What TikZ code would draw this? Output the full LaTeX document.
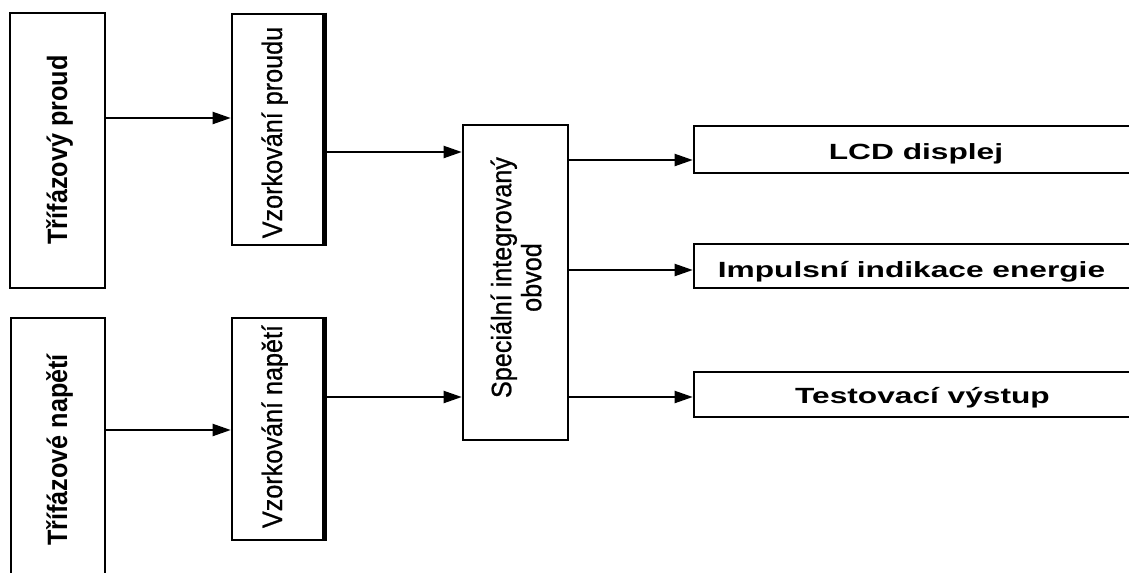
\documentclass[tikz,border=0pt]{standalone}
\usepackage{fontspec}
\setmainfont{Liberation Sans}
\newfontfamily\rotfont[FakeStretch=0.9]{Liberation Sans}
\newfontfamily\rotregfont[FakeStretch=0.9,FakeBold=0.7]{Liberation Sans}
\newfontfamily\horfont[FakeStretch=1.44]{Liberation Sans}
\usetikzlibrary{arrows.meta,fit}
\begin{document}
\begin{tikzpicture}[x=0.75pt,y=-0.75pt,
  box/.style={draw=black, line width=1.9pt, inner sep=0pt},
  rbold/.style={rotate=90, inner sep=0pt, anchor=base, font=\rotfont\bfseries\fontsize{21pt}{22.5pt}\selectfont},
  rreg/.style={rotate=90, inner sep=0pt, anchor=base, font=\rotregfont\fontsize{21pt}{22.5pt}\selectfont},
  hbold/.style={inner sep=0pt, anchor=base, font=\horfont\bfseries\fontsize{16.5pt}{18pt}\selectfont},
  arr/.style={line width=1.5pt, -{Triangle[length=13.5pt,width=9pt]}},
  thickedge/.style={line width=3.4pt}
]
\useasboundingbox (0,0) rectangle (1129,572);
\clip (0,0) rectangle (1129,572);

% boxes
\node[box, fit={(10,13) (105,288)}] (b1) {};
\node[box, fit={(232,14) (323,245)}] (b2) {};
\node[box, fit={(11,318) (105,582)}] (b3) {};
\node[box, fit={(232,318) (323,540)}] (b4) {};
\node[box, fit={(463,125) (568,440)}] (b5) {};
\node[box, fit={(694,126) (1138,173)}] (b6) {};
\node[box, fit={(694,244) (1138,288)}] (b7) {};
\node[box, fit={(694,372) (1138,417)}] (b8) {};
\draw[thickedge] (b2.north east) -- (b2.south east);
\draw[thickedge] (b4.north east) -- (b4.south east);

% texts
\node[rbold] (t1) at (67,150) {Třífázový proud};
\node[rreg] (t2) at (282,132.5) {Vzorkování proudu};
\node[rbold] (t3) at (67,450) {Třífázové napětí};
\node[rreg] (t4) at (282,426.5) {Vzorkování napětí};
\node[rreg, anchor=center, align=center] (t5) at (516,277.5) {Speciální integrovaný\\obvod};
\node[hbold] (t6) at (916,159.3) {LCD displej};
\node[hbold] (t7) at (911.5,277.3) {Impulsní indikace energie};
\node[hbold] (t8) at (922.5,403) {Testovací výstup};

% arrow levels
\coordinate (y1) at (0,118);
\coordinate (y2) at (0,430);
\coordinate (y3) at (0,152);
\coordinate (y4) at (0,397);
\coordinate (y5) at (0,160);
\coordinate (y6) at (0,270);
\coordinate (y7) at (0,397);

\draw[arr] (b1.east |- y1) -- (b2.west |- y1);
\draw[arr] (b3.east |- y2) -- (b4.west |- y2);
\draw[arr] (b2.east |- y3) -- (b5.west |- y3);
\draw[arr] (b4.east |- y4) -- (b5.west |- y4);
\draw[arr] (b5.east |- y5) -- (b6.west |- y5);
\draw[arr] (b5.east |- y6) -- (b7.west |- y6);
\draw[arr] (b5.east |- y7) -- (b8.west |- y7);
\end{tikzpicture}
\end{document}
